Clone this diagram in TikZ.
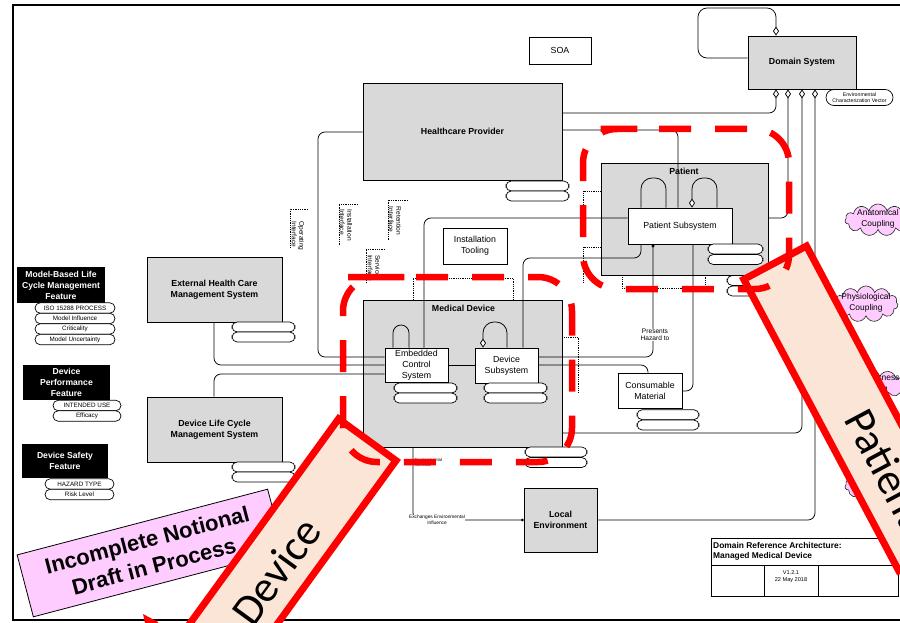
\documentclass[tikz,border=0pt]{standalone}
\usepackage{fontspec}
\setmainfont{Liberation Sans}
\newfontfamily\bannerfont{Carlito}
\usetikzlibrary{shapes.symbols,arrows.meta,backgrounds}
\definecolor{boxgray}{HTML}{D9D9D9}
\definecolor{notepink}{HTML}{FFCCFF}
\definecolor{bannerfill}{HTML}{FBE5D6}
\definecolor{bannerred}{HTML}{FF0000}

\begin{document}
\begin{tikzpicture}[x=1pt, y=-1pt,
  box/.style={draw=black, line width=0.8pt, fill=boxgray, inner sep=1pt, align=center,
    font=\bfseries\fontsize{8.8}{10.5}\selectfont},
  wbox/.style={draw=black, line width=0.8pt, fill=white, inner sep=1pt, align=center,
    font=\fontsize{8.8}{10.8}\selectfont},
  boldlbl/.style={inner sep=0pt, font=\bfseries\fontsize{8.8}{10.5}\selectfont},
  feat/.style={fill=black, text=white, inner sep=0pt, align=center,
    font=\bfseries\fontsize{8.6}{11}\selectfont},
  pill/.style={draw=black, line width=0.7pt, fill=white, rounded corners=5.2pt,
    inner sep=0pt, minimum height=10.5pt, font=\fontsize{6.3}{7}\selectfont},
  conn/.style={draw=black, line width=0.75pt, rounded corners=7pt},
  agg/.style={{Diamond[fill=white,length=9pt,width=6pt]}-},
  ifc/.style={draw=black, line width=0.6pt, dash pattern=on 0.9pt off 0.9pt},
  sidelbl/.style={inner sep=0.4pt, align=left, font=\fontsize{6.6}{7.4}\selectfont},
  tinylbl/.style={inner sep=0.4pt, align=center, font=\fontsize{4.8}{6}\selectfont},
  puff/.style={cloud, cloud puffs=11, cloud ignores aspect, draw=black!85, fill=notepink,
    line width=0.6pt, inner sep=0pt},
  pufftext/.style={inner sep=0pt, align=center, font=\fontsize{8.4}{10.5}\selectfont},
  banner/.style={draw=bannerred, fill=bannerfill, line width=7pt, minimum width=330pt,
    minimum height=71pt, inner sep=0pt},
  bannertext/.style={inner sep=0pt, font=\bannerfont\fontsize{44}{50}\selectfont},
  redscope/.style={draw=bannerred, line width=6.5pt, rounded corners=34pt,
    dash pattern=on 32pt off 24pt},
]
\useasboundingbox (0,0) rectangle (900,623);

% ---------- containers (under the connectors) ----------
\begin{pgfonlayer}{background}
  \fill[white] (0,0) rectangle (900,623);
  \node[box, minimum width=199pt, minimum height=147pt] (md) at (462.5,373.5) {};
  \node[box, minimum width=167pt, minimum height=112pt] (pat) at (684.5,219) {};
\end{pgfonlayer}

% ---------- frame ----------
\draw[line width=2pt] (910,5) -- (13,5) -- (13,620) -- (910,620);

% ---------- blocks ----------
\node[box, minimum width=108pt, minimum height=53pt] (ds) at (802,62.5) {Domain System};
\node[wbox, minimum width=62pt, minimum height=27pt] (soa) at (560,50.5) {SOA};
\node[box, minimum width=199pt, minimum height=97pt] (hp) at (462.5,131.5) {Healthcare Provider};
\node[box, minimum width=135pt, minimum height=65pt] (ehc) at (214.5,289.5) {External Health Care\\Management System};
\node[box, minimum width=135pt, minimum height=65pt] (dlc) at (214.5,429.5) {Device Life Cycle\\Management System};
\node[boldlbl] (mdlbl) at (463.5,308) {Medical Device};
\node[boldlbl] (patlbl) at (684,171) {Patient};
\node[wbox, minimum width=63pt, minimum height=34pt] (ecs) at (416.5,365) {Embedded\\Control\\System};
\node[wbox, minimum width=63pt, minimum height=35pt] (dsub) at (506.5,365.5) {Device\\Subsystem};
\node[wbox, minimum width=104pt, minimum height=36pt] (ps) at (680,226) {Patient Subsystem};
\node[wbox, minimum width=64pt, minimum height=36pt] (tool) at (475,246) {Installation\\Tooling};
\node[wbox, minimum width=64pt, minimum height=35pt] (cm) at (650,390.5) {Consumable\\Material};
\node[box, minimum width=73pt, minimum height=64pt] (le) at (560.5,520) {Local\\Environment};

% ---------- attribute pills ----------
\node[pill, minimum width=67pt, minimum height=16pt, rounded corners=8pt,
  font=\fontsize{5.2}{6.4}\selectfont, align=center] (ecv) at (859.5,97.5) {Environmental\\Characterization Vector};
\foreach \y [count=\i] in {186,196} \node[pill, minimum width=63pt, minimum height=10pt] (hpp\i) at (537.5,\y) {};
\foreach \y [count=\i] in {327,337} \node[pill, minimum width=63pt, minimum height=10pt] (ehcp\i) at (263.5,\y) {};
\foreach \y [count=\i] in {467,477} \node[pill, minimum width=63pt, minimum height=10pt] (dlcp\i) at (263.5,\y) {};
\foreach \y [count=\i] in {388,398} \node[pill, minimum width=63pt, minimum height=10pt] (ecsp\i) at (425.5,\y) {};
\foreach \y [count=\i] in {388,398} \node[pill, minimum width=63pt, minimum height=10pt] (dsubp\i) at (515.5,\y) {};
\foreach \y [count=\i] in {452,462.5} \node[pill, minimum width=62pt, minimum height=10pt] (mdp\i) at (556,\y) {};
\foreach \y [count=\i] in {249,259.5} \node[pill, minimum width=55pt, minimum height=10pt] (psp\i) at (735.5,\y) {};
\foreach \y [count=\i] in {280.5,291} \node[pill, minimum width=63pt, minimum height=10pt] (patp\i) at (758.5,\y) {};
\foreach \y [count=\i] in {414.7,425} \node[pill, minimum width=62pt, minimum height=10pt] (cmp\i) at (668,\y) {};

% ---------- feature legend ----------
\node[feat, minimum width=88pt, minimum height=36pt] (f1) at (61,285) {Model-Based Life\\Cycle Management\\Feature};
\node[pill, minimum width=80pt] (f1a) at (75,308) {ISO 15288 PROCESS};
\node[pill, minimum width=80pt] (f1b) at (75,318.5) {Model Influence};
\node[pill, minimum width=80pt] (f1c) at (75,329) {Criticality};
\node[pill, minimum width=80pt] (f1d) at (75,339.5) {Model Uncertainty};
\node[feat, minimum width=87pt, minimum height=35pt] (f2) at (66.5,382.5) {Device\\Performance\\Feature};
\node[pill, minimum width=68pt] (f2a) at (87,405.5) {INTENDED USE};
\node[pill, minimum width=68pt] (f2b) at (87,416) {Efficacy};
\node[feat, minimum width=86pt, minimum height=34pt] (f3) at (65,461) {Device Safety\\Feature};
\node[pill, minimum width=69pt] (f3a) at (79.5,484) {HAZARD TYPE};
\node[pill, minimum width=69pt] (f3b) at (79.5,494.5) {Risk Level};

% ---------- connectors ----------
\begin{pgfonlayer}{background}
  % Domain System aggregations
  \draw[conn, rounded corners=9pt, -{Diamond[fill=white,length=9pt,width=6pt]}]
    (ds.west |- 0,58) -- (698,58) -- (698,8) -- (776,8) -- (ds.north -| 776,0);
  \draw[conn, agg] (ds.south -| 776,0) -- (776,113) -- (hp.east |- 0,113);
  \draw[conn, agg] (ds.south -| 788,0) -- (788,218) -- (pat.east |- 0,218);
  \draw[conn, agg] (ds.south -| 802,0) -- (802,433) -- (md.east |- 0,433);
  \draw[conn, agg] (ds.south -| 815,0) -- (815,520) -- (le.east);
  % provider and management systems
  \draw[conn] (hp.east |- 0,130) -- (678,130) -- (ps.north -| 678,0);
  \draw[conn] (hp.west |- 0,132) -- (318,132) -- (318,357) -- (ecs.west |- 0,357);
  \draw[conn] (ehc.south -| 214,0) -- (214,365) -- (ecs.west |- 0,365);
  \draw[conn] (dlc.north -| 214,0) -- (214,374) -- (ecs.west |- 0,374);
  % device internals and patient links
  \draw[conn] (ecs.east |- 0,365) -- (dsub.west |- 0,365);
  \draw[conn] (ecs.north -| 424,0) -- (424,218) -- (ps.west |- 0,218);
  \draw[conn] (dsub.north -| 523,0) -- (523,258) -- (641,258) -- (ps.south -| 641,0);
  \draw[conn, -{Circle[length=3pt]}] (dsub.east |- 0,357) -- (653,357) -- (ps.south -| 653,0);
  \draw[conn] (dsub.east |- 0,365) -- (648,365) -- (cm.north -| 648,0);
  \draw[conn] (ps.south -| 693,0) -- (693,391) -- (cm.east |- 0,391);
  \draw[conn, -{Circle[length=2.5pt]}] (md.south -| 413,0) -- (413,520) -- (le.west);
  % self associations
  \draw[conn, rounded corners=8pt] (ecs.north -| 393,0) -- (393,325) -- (409,325) -- (ecs.north -| 409,0);
  \draw[conn, agg, rounded corners=11pt] (dsub.north -| 483,0) -- (483,322) -- (507,322) -- (dsub.north -| 507,0);
  \draw[conn, rounded corners=11pt] (ps.north -| 641,0) -- (641,178) -- (666,178) -- (ps.north -| 666,0);
  \draw[conn, agg, rounded corners=11pt] (ps.north -| 692,0) -- (692,178) -- (717,178) -- (ps.north -| 717,0);
  % interfaces (dotted)
  \draw[ifc] (358,204) -- (339,204) -- (339,245);
  \draw[ifc] (408,200) -- (388,200) -- (388,240);
  \draw[ifc] (385,249) -- (366,249) -- (366,283);
  \draw[ifc] (308,209) -- (290,209) -- (290,247);
  \draw[ifc] (md.north -| 413,0) -- (413,278) -- (513,278) -- (md.north -| 513,0);
  \draw[ifc] (pat.south -| 622,0) -- (622,288) -- (705,288) -- (pat.south -| 705,0);
  \draw[ifc] (md.east |- 0,337) -- (578,337) -- (578,393);
  \draw[ifc] (pat.west |- 0,191) -- (583,191) -- (583,232);
  \draw[ifc] (pat.west |- 0,247) -- (583,247) -- (583,282);
\end{pgfonlayer}

% ---------- connector labels ----------
\node[sidelbl, rotate=-90] (lblinst) at (346,225) {Installation\\Interface};
\node[sidelbl, rotate=-90] (lblret) at (395,221) {Retention\\Interface};
\node[sidelbl, rotate=-90] (lblserv) at (374,268) {Service\\Interface};
\node[sidelbl, rotate=-90] (lblop) at (298,236) {Operating\\Interface};
\node[sidelbl, align=center, fill=white] (lblhaz) at (655,335) {Presents\\Hazard to};
\node[tinylbl, fill=white] (lblexch) at (437,520) {Exchanges Environmental\\Influence};
\node[tinylbl, align=left, anchor=west, font=\fontsize{4.3}{5}\selectfont] (lblenv) at (414,462.5) {Environmental\\Interface};

% ---------- coupling clouds ----------
\node[puff, minimum width=66pt, minimum height=32pt] (cl1) at (878,220) {};
\node[pufftext] (cl1t) at (878,219) {Anatomical\\Coupling};
\node[puff, minimum width=64pt, minimum height=36pt] (cl2) at (866,304) {};
\node[pufftext] (cl2t) at (866,303) {Physiological\\Coupling};
\node[puff, minimum width=70pt, minimum height=32pt] (cl3) at (870,385) {};
\node[pufftext] (cl3t) at (871,384) {Consciousness\\Coupling};
\node[puff, minimum width=66pt, minimum height=32pt] (cl4) at (878,486) {};

% ---------- title block ----------
\draw[line width=0.8pt] (711,538) rectangle (898,596);
\draw[line width=0.8pt] (711,565) -- (898,565);
\draw[line width=0.8pt] (764,565) -- (764,596) (818,565) -- (818,596);
\node[anchor=west, inner sep=0pt, align=left, font=\bfseries\fontsize{8.4}{10.5}\selectfont] (ttl) at (713,551.5)
  {Domain Reference Architecture:\\Managed Medical Device};
\node[inner sep=0pt, align=center, font=\fontsize{5.6}{6.8}\selectfont] (ver) at (791,577) {V1.2.1\\22 May 2018};

% ---------- draft note and overlay banners ----------
\node[draw=black, line width=0.8pt, fill=notepink, rotate=14.7, minimum width=259pt,
  minimum height=64pt, inner sep=0pt, align=center,
  font=\bfseries\fontsize{22}{27}\selectfont] (draft) at (150.5,553) {Incomplete Notional\\Draft in Process};

\begin{scope}
  \clip (0,0) rectangle (900,623);
  \fill[bannerred] (143,614) -- (158,622) -- (158,623) -- (145,623) -- cycle;
  \node[banner, rotate=54] (devbanner) at (270.3,573.2) {};
  \node[bannertext, rotate=54] (devtext) at (276,571) {Device};
  \node[banner, rotate=-62] (patbanner) at (852.6,408.4) {};
  \node[bannertext, rotate=-62] (pattext) at (886,468) {Patient};
\end{scope}

% ---------- scope outlines ----------
\draw[redscope] (382,277) -- (572,277) -- (572,462) -- (343,462) -- (343,277) -- cycle;
\draw[redscope] (625,129) -- (789,129) -- (789,289) -- (583,289) -- (583,129) -- cycle;
\end{tikzpicture}
\end{document}
